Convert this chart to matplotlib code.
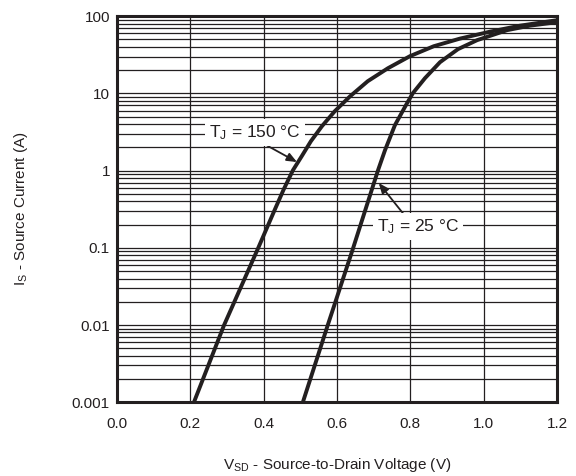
import matplotlib
matplotlib.use("Agg")
import matplotlib.pyplot as plt
from matplotlib.ticker import LogLocator, FixedLocator, FixedFormatter
import numpy as np

plt.rcParams['font.family'] = ['Liberation Sans', 'DejaVu Sans']
plt.rcParams['mathtext.fontset'] = 'custom'
plt.rcParams['mathtext.rm'] = 'Liberation Sans'
plt.rcParams['mathtext.it'] = 'Liberation Sans'

# values (current given as log10 of amps)
v_150 = [0.210, 0.292, 0.385, 0.431, 0.455, 0.480, 0.504, 0.529, 0.559, 0.594,
         0.635, 0.684, 0.739, 0.799, 0.864, 0.935, 1.017, 1.099, 1.200]
log_i_150 = [-3.0, -2.003, -1.005, -0.50, -0.241, 0.005, 0.187, 0.381, 0.575, 0.769,
             0.959, 1.158, 1.326, 1.482, 1.611, 1.709, 1.799, 1.877, 1.948]

v_25 = [0.507, 0.575, 0.644, 0.712, 0.731, 0.758, 0.788, 0.807, 0.840, 0.881,
        0.930, 0.982, 1.064, 1.126, 1.200]
log_i_25 = [-3.0, -2.0, -1.005, 0.005, 0.264, 0.588, 0.847, 1.003, 1.197, 1.404,
            1.573, 1.689, 1.819, 1.877, 1.922]

x_ticks = [0.0, 0.2, 0.4, 0.6, 0.8, 1.0, 1.2]
y_ticks = [0.001, 0.01, 0.1, 1, 10, 100]
y_labels = ['0.001', '0.01', '0.1', '1', '10', '100']

ink = '#231f20'

fig = plt.figure(figsize=(5.76, 4.76), dpi=100)
ax = fig.add_axes([0.203, 0.155, 0.764, 0.811])

ax.set_yscale('log')
ax.set_xlim(0, 1.2)
ax.set_ylim(0.001, 100)

i_150 = 10 ** np.array(log_i_150)
i_25 = 10 ** np.array(log_i_25)
ax.plot(v_150, i_150, color=ink, lw=2.8, solid_joinstyle='round', zorder=3)
ax.plot(v_25, i_25, color=ink, lw=2.8, solid_joinstyle='round', zorder=3)

ax.xaxis.set_major_locator(FixedLocator(x_ticks))
ax.set_xticklabels([f'{t:.1f}' for t in x_ticks])
ax.yaxis.set_major_locator(FixedLocator(y_ticks))
ax.yaxis.set_major_formatter(FixedFormatter(y_labels))
ax.yaxis.set_minor_locator(LogLocator(base=10, subs=np.arange(2, 10), numticks=20))
ax.yaxis.set_minor_formatter(plt.NullFormatter())

ax.grid(which='major', axis='both', color=ink, lw=0.9)
ax.grid(which='minor', axis='y', color=ink, lw=0.9)
ax.tick_params(which='both', length=0, labelsize=11, colors=ink)
ax.tick_params(axis='x', pad=10.5)
ax.tick_params(axis='y', pad=5)
for s in ax.spines.values():
    s.set_linewidth(2.2)
    s.set_color(ink)
    s.set_zorder(4)

ax.set_xlabel('V$_{\\rm SD}$ - Source-to-Drain Voltage (V)', fontsize=11, labelpad=18,
              color=ink)
ax.set_ylabel('I$_{\\rm S}$ - Source Current (A)', fontsize=11, labelpad=30,
              color=ink)

box = dict(boxstyle='square,pad=0.25', fc='white', ec='none')
arrow = dict(arrowstyle='-|>,head_length=0.6,head_width=0.25', color=ink, lw=1.3,
             shrinkA=0, shrinkB=0)
ax.annotate('', xy=(0.491, 1.29), xytext=(0.398, 2.26), arrowprops=arrow, zorder=5)
ax.text(0.376, 3.14, 'T$_{\\rm J}$ = 150 °C', fontsize=12.5, ha='center', va='center',
        bbox=box, zorder=6, color=ink)
ax.annotate('', xy=(0.714, 0.69), xytext=(0.78, 0.28), arrowprops=arrow, zorder=5)
ax.text(0.821, 0.19, 'T$_{\\rm J}$ = 25 °C', fontsize=12.5, ha='center', va='center',
        bbox=box, zorder=6, color=ink)

fig.savefig('out.png', dpi=100)
